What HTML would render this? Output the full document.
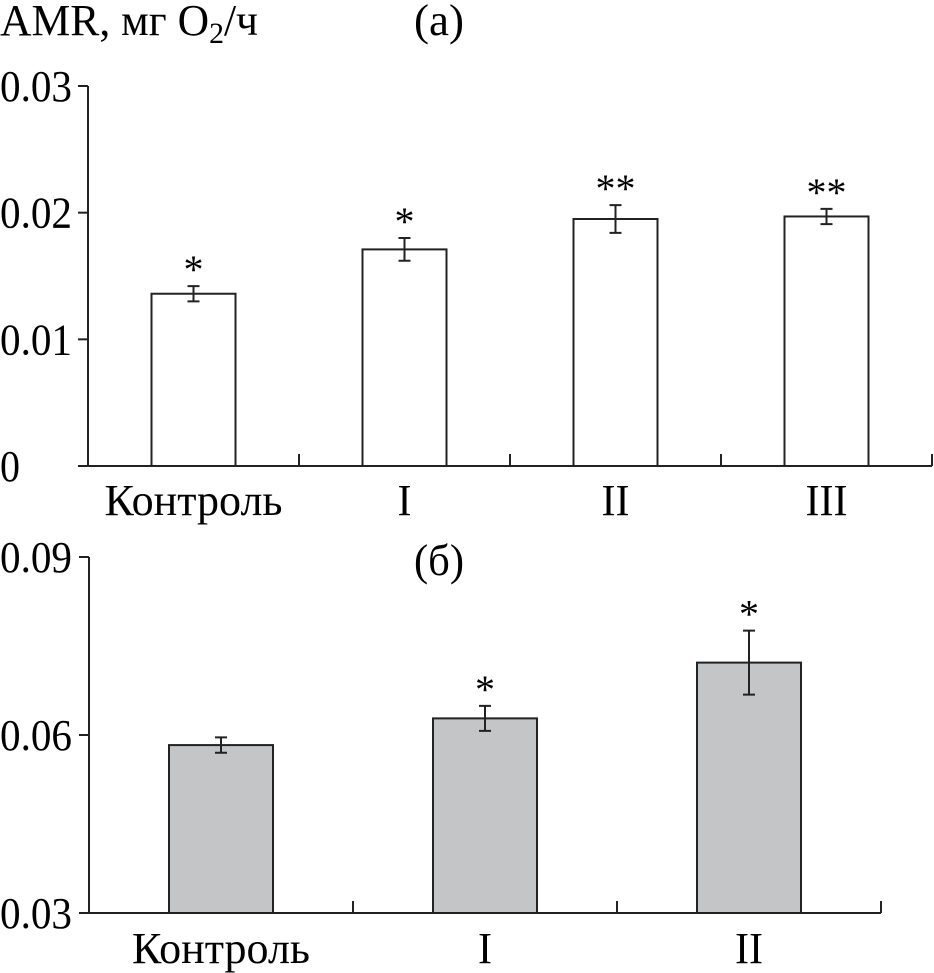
<!DOCTYPE html>
<html><head><meta charset="utf-8"><style>
body{margin:0;background:#fff}
svg{display:block;font-family:"Liberation Serif","DejaVu Serif",serif}
</style></head><body>
<svg id="c" width="934" height="973" viewBox="0 0 934 973" xmlns="http://www.w3.org/2000/svg">
<text x="0" y="35" font-size="44" textLength="258" lengthAdjust="spacingAndGlyphs">AMR, мг O<tspan font-size="30" dy="8">2</tspan><tspan dy="-8">/ч</tspan></text>
<text x="414" y="35" font-size="44" textLength="50" lengthAdjust="spacingAndGlyphs">(a)</text>
<text x="414" y="575" font-size="44" textLength="50" lengthAdjust="spacingAndGlyphs">(б)</text>
<g id="pa"></g><g id="pb"></g>
</svg>
<script>
const catsA=["Контроль","I","II","III"];
const valsA=[0.0136,0.0171,0.0195,0.0197];
const errA=[0.0006,0.0009,0.0011,0.0006];
const starsA=["*","*","**","**"];
const ticksA=[0,0.01,0.02,0.03];
const tickLabelsA=["0","0.01","0.02","0.03"];
const catsB=["Контроль","I","II"];
const valsB=[0.0583,0.0628,0.0722];
const errB=[0.0013,0.0021,0.0054];
const starsB=["","*","*"];
const ticksB=[0.03,0.06,0.09];
const tickLabelsB=["0.03","0.06","0.09"];
const NS="http://www.w3.org/2000/svg";
function mk(p,t,a){const e=document.createElementNS(NS,t);for(const k in a)e.setAttribute(k,a[k]);p.appendChild(e);return e;}
function panel(g,cats,vals,errs,stars,ticks,labels,o){
 const y=v=>o.y0-(v-o.vmin)/(o.vmax-o.vmin)*(o.y0-o.y1);
 const bw=o.band;
 let a=mk(g,"line",{x1:o.x0,y1:o.y1,x2:o.x0,y2:o.y0,stroke:"#222","stroke-width":2});
 
 a=mk(g,"line",{x1:o.x0,y1:o.y0,x2:o.x0+bw*cats.length,y2:o.y0,stroke:"#222","stroke-width":2});
 
 ticks.forEach((t,i)=>{
  const l=mk(g,"line",{x1:o.x0-10,y1:y(t),x2:o.x0,y2:y(t),stroke:"#222","stroke-width":2});
  
  const tx=mk(g,"text",{x:0,y:y(t)+15,"font-size":44,textLength:labels[i].length>1?72:20,lengthAdjust:"spacingAndGlyphs"});
  tx.textContent=labels[i];
  
 });
 cats.forEach((c,i)=>{
  const xt=o.x0+bw*(i+1);
  const l=mk(g,"line",{x1:xt,y1:o.y0-12,x2:xt,y2:o.y0,stroke:"#222","stroke-width":2});
  
  const cx=o.x0+bw*(i+0.5), top=y(vals[i]);
  const r=mk(g,"rect",{x:cx-o.barW/2,y:top,width:o.barW,height:o.y0-top,fill:o.fill,stroke:"#222","stroke-width":2});
  
  const e1=y(vals[i]+errs[i]),e2=y(vals[i]-errs[i]);
  const eb=mk(g,"path",{d:`M${cx} ${e1}V${e2}M${cx-6} ${e1}H${cx+6}M${cx-6} ${e2}H${cx+6}`,stroke:"#222","stroke-width":2,fill:"none"});
  
  if(stars[i]){const s=mk(g,"text",{x:cx,y:e1-3,"font-size":40,"text-anchor":"middle"});s.textContent=stars[i];
   }
  const w=c.length>3?178:c.length*14;
  const ct=mk(g,"text",{x:cx-w/2,y:o.labY,"font-size":44,textLength:w,lengthAdjust:"spacingAndGlyphs"});ct.textContent=c;
  
 });
}
panel(document.getElementById('pa'),catsA,valsA,errA,starsA,ticksA,tickLabelsA,{x0:88,y0:466,y1:86,vmin:0,vmax:0.03,band:211,barW:84,fill:"#fff",labY:515});
panel(document.getElementById('pb'),catsB,valsB,errB,starsB,ticksB,tickLabelsB,{x0:89,y0:913,y1:557,vmin:0.03,vmax:0.09,band:264,barW:104,fill:"#c4c5c7",labY:963});
</script>
</body></html>
